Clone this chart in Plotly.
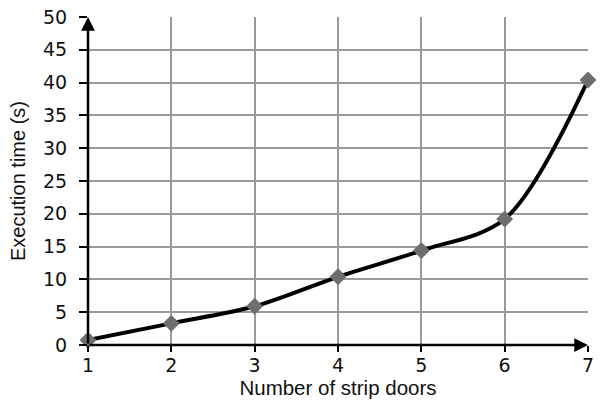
import plotly.graph_objects as go

doors = [1, 2, 3, 4, 5, 6, 7]
exec_time = [0.75, 3.3, 5.9, 10.4, 14.4, 19.2, 40.4]
x_ticks = [1, 2, 3, 4, 5, 6, 7]
y_ticks = [0, 5, 10, 15, 20, 25, 30, 35, 40, 45, 50]

tick_font = dict(family="DejaVu Sans", size=19, color="#111")
title_font = dict(family="Liberation Sans", size=20, color="#111")
xtitle_font = dict(family="Liberation Sans", size=20.5, color="#111")

fig = go.Figure()
fig.add_trace(go.Scatter(
    x=doors, y=exec_time, mode="lines+markers",
    line=dict(color="black", width=4, shape="spline", smoothing=0.9),
    marker=dict(symbol="diamond", size=13, color="#6e6e6e"),
    showlegend=False, cliponaxis=False,
))

# axis lines with arrowheads
fig.add_annotation(x=1, y=50, ax=1, ay=0, xref="x", yref="y", axref="x", ayref="y",
                   showarrow=True, arrowhead=2, arrowsize=1.1, arrowwidth=2.5, arrowcolor="black", text="")
fig.add_annotation(x=7, y=0, ax=1, ay=0, xref="x", yref="y", axref="x", ayref="y",
                   showarrow=True, arrowhead=2, arrowsize=1.1, arrowwidth=2.5, arrowcolor="black", text="")

fig.update_layout(
    width=601, height=407,
    margin=dict(l=88, r=13, t=17, b=62),
    plot_bgcolor="white", paper_bgcolor="white",
    xaxis=dict(range=[1, 7], tickvals=x_ticks, showgrid=True, gridcolor="#9a9a9a", gridwidth=1.5,
               zeroline=False, showline=False, ticks="outside", ticklen=6, tickcolor="black",
               tickwidth=1.5, tickfont=tick_font, automargin=False, ticklabelstandoff=-3,
               ticklabeloverflow="allow",
               title=dict(text="Number of strip doors", font=xtitle_font, standoff=4)),
    yaxis=dict(range=[0, 50], tickvals=y_ticks, showgrid=True, gridcolor="#9a9a9a", gridwidth=1.5,
               zeroline=False, showline=False, ticks="outside", ticklen=8, tickcolor="black",
               tickwidth=1.5, tickfont=tick_font, automargin=False, ticklabelstandoff=8,
               ticklabeloverflow="allow",
               title=dict(text="Execution time (s)", font=title_font, standoff=12)),
)
fig.write_html("out.html", config={"displayModeBar": False},
               post_script="document.body.style.margin='0';")
